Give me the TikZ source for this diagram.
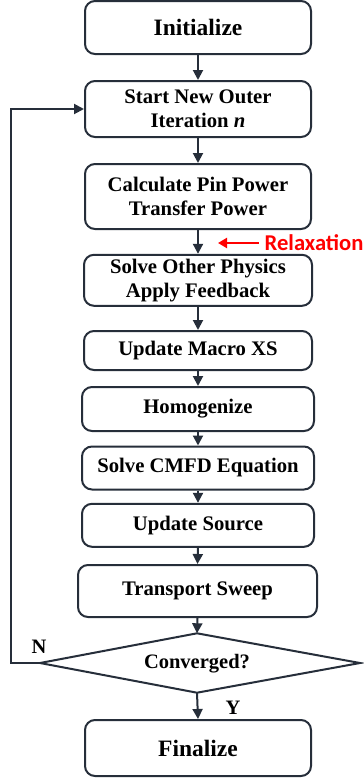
\documentclass[tikz,border=0pt]{standalone}
\usepackage{fontspec}
\setmainfont{Liberation Serif}
\newfontfamily\relaxfont{Carlito}
\usetikzlibrary{arrows.meta}
\definecolor{linecol}{HTML}{262E3A}
\definecolor{relaxred}{HTML}{FF0000}
\begin{document}
\begin{tikzpicture}[x=1pt,y=-1pt,
  procbox/.style={draw=linecol, line width=2pt, rounded corners=10pt, fill=white,
    align=center, inner sep=0pt, font=\fontsize{20.7}{24.3}\selectfont\bfseries, text=black},
  bigbox/.style={procbox, font=\fontsize{23.5}{27}\selectfont\bfseries},
  flow/.style={draw=linecol, line width=2pt, -{Triangle[length=10pt,width=10pt]}},
  lbl/.style={font=\fontsize{20.5}{24}\selectfont\bfseries, text=black, inner sep=0pt}]
\useasboundingbox (0,0) rectangle (364,780);
\node[bigbox, minimum width=226pt, minimum height=53pt] (init) at (198,27.5) {Initialize};
\node[procbox, minimum width=226pt, minimum height=56pt] (start) at (198,109) {Start New Outer\\Iteration \textit{n}};
\node[procbox, minimum width=226pt, minimum height=65pt] (calc) at (198,196.5) {Calculate Pin Power\\Transfer Power};
\node[procbox, minimum width=228pt, minimum height=51pt] (solve) at (198,280.3) {Solve Other Physics\\Apply Feedback};
\node[procbox, minimum width=228pt, minimum height=39pt] (macro) at (198,350.5) {Update Macro XS};
\node[procbox, minimum width=232pt, minimum height=44pt] (homog) at (198,409) {Homogenize};
\node[procbox, minimum width=232pt, minimum height=43pt] (cmfd) at (198,468) {Solve CMFD Equation};
\node[procbox, minimum width=232pt, minimum height=43pt] (source) at (198,525.3) {Update Source};
\node[procbox, minimum width=239pt, minimum height=52pt] (sweep) at (197.5,591) {Transport Sweep};
\node[bigbox, minimum width=226pt, minimum height=56pt] (final) at (198,748) {Finalize};
% decision diamond
\coordinate (dT) at (197,633.3);
\coordinate (dB) at (197,692.7);
\coordinate (dL) at (40,663);
\coordinate (dR) at (360,663);
\draw[draw=linecol, line width=2pt, line join=miter, fill=white] (dT) -- (dR) -- (dB) -- (dL) -- cycle;
\node[lbl] (conv) at (197,664) {Converged?};
% flow arrows
\draw[flow] (init.south) -- (start.north);
\draw[flow] (start.south) -- (calc.north);
\draw[flow] (calc.south) -- (solve.north);
\draw[flow] (solve.south) -- (macro.north);
\draw[flow] (macro.south) -- (homog.north);
\draw[flow] (homog.south) -- (cmfd.north);
\draw[flow] (cmfd.south) -- (source.north);
\draw[flow] (source.south) -- (sweep.north);
\draw[flow] (sweep.south) -- (dT);
\draw[flow] (dB) -- (final.north);
% loop back
\coordinate (lp) at (11,663);
\draw[flow] (dL) -- (lp) |- (start.west);
% labels
\node[lbl] (nlab) at (39,646.5) {N};
\node[lbl] (ylab) at (233,708) {Y};
% relaxation
\node[anchor=west, inner sep=0pt, text=relaxred, font=\relaxfont\fontsize{22.6}{26}\selectfont\bfseries] (relax) at (264.5,242.5) {Relaxation};
\coordinate (rtip) at (218,243);
\draw[draw=relaxred, line width=2.6pt, -{Triangle[length=9pt,width=10pt]}] (relax.west) ++(-6,0.5) -- (rtip);
\end{tikzpicture}
\end{document}
